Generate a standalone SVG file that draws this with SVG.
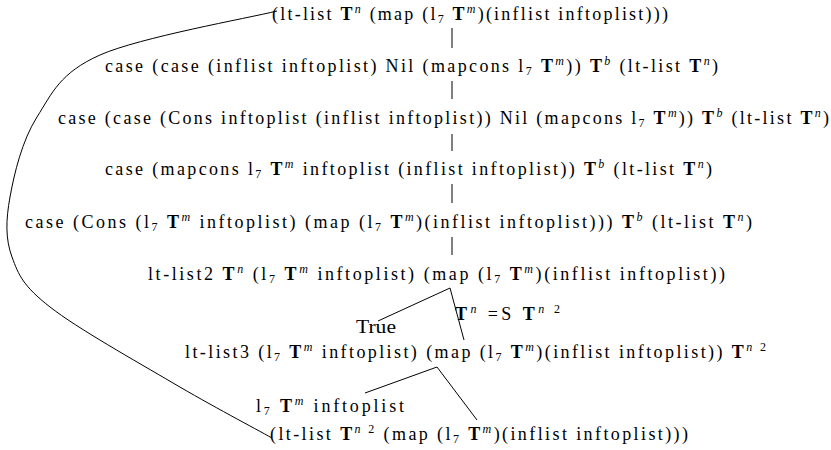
<svg xmlns="http://www.w3.org/2000/svg" width="831" height="450" viewBox="0 0 831 450">
<style>
.t{font-family:"Liberation Serif","DejaVu Serif",serif;font-size:18px;fill:#000}
.b{font-weight:bold}
.s{font-size:12px;font-style:italic}
.d{font-size:12px}
.c{fill:none;stroke:#000;stroke-width:1}
</style>
<rect width="831" height="450" fill="#fff"/>
<g id="connectors">
<path class="c" d="M277,11 C247.5,18.3 140,37.3 100,55 C60,72.7 52,93.3 37,117 C22,140.7 14.2,173.7 10,197 C5.8,220.3 5.3,238.7 12,257 C18.7,275.3 23.2,286 50,307 C76.8,328 136,361.2 173,383 C210,404.8 255.5,428.8 272,438"/>
<line class="c" x1="452" y1="28" x2="452" y2="48"/>
<line class="c" x1="452" y1="81" x2="452" y2="99"/>
<line class="c" x1="452" y1="134" x2="452" y2="151"/>
<line class="c" x1="452" y1="184" x2="452" y2="203"/>
<line class="c" x1="452" y1="237" x2="452" y2="255"/>
<polyline class="c" points="378,321 450,288 464,340"/>
<polyline class="c" points="365,393 437,367 477,420"/>
</g>
<g id="n1"><text class="t" x="272" y="20" textLength="396" lengthAdjust="spacing">(lt-list <tspan class="b">T</tspan><tspan class="s" dy="-7">n</tspan><tspan dy="7"> (map (l</tspan><tspan class="d" dy="3">7</tspan><tspan dy="-3"> </tspan><tspan class="b">T</tspan><tspan class="s" dy="-7">m</tspan><tspan dy="7">)(inflist inftoplist)))</tspan></text></g>
<g id="n2"><text class="t" x="105" y="72" textLength="613" lengthAdjust="spacing">case (case (inflist inftoplist) Nil (mapcons l<tspan class="d" dy="3">7</tspan><tspan dy="-3"> </tspan><tspan class="b">T</tspan><tspan class="s" dy="-7">m</tspan><tspan dy="7">)) </tspan><tspan class="b">T</tspan><tspan class="s" dy="-7">b</tspan><tspan dy="7"> (lt-list </tspan><tspan class="b">T</tspan><tspan class="s" dy="-7">n</tspan><tspan dy="7">)</tspan></text></g>
<g id="n3"><text class="t" x="58" y="124" textLength="771" lengthAdjust="spacing">case (case (Cons inftoplist (inflist inftoplist)) Nil (mapcons l<tspan class="d" dy="3">7</tspan><tspan dy="-3"> </tspan><tspan class="b">T</tspan><tspan class="s" dy="-7">m</tspan><tspan dy="7">)) </tspan><tspan class="b">T</tspan><tspan class="s" dy="-7">b</tspan><tspan dy="7"> (lt-list </tspan><tspan class="b">T</tspan><tspan class="s" dy="-7">n</tspan><tspan dy="7">)</tspan></text></g>
<g id="n4"><text class="t" x="105" y="175" textLength="607" lengthAdjust="spacing">case (mapcons l<tspan class="d" dy="3">7</tspan><tspan dy="-3"> </tspan><tspan class="b">T</tspan><tspan class="s" dy="-7">m</tspan><tspan dy="7"> inftoplist (inflist inftoplist)) </tspan><tspan class="b">T</tspan><tspan class="s" dy="-7">b</tspan><tspan dy="7"> (lt-list </tspan><tspan class="b">T</tspan><tspan class="s" dy="-7">n</tspan><tspan dy="7">)</tspan></text></g>
<g id="n5"><text class="t" x="25" y="228" textLength="727" lengthAdjust="spacing">case (Cons (l<tspan class="d" dy="3">7</tspan><tspan dy="-3"> </tspan><tspan class="b">T</tspan><tspan class="s" dy="-7">m</tspan><tspan dy="7"> inftoplist) (map (l</tspan><tspan class="d" dy="3">7</tspan><tspan dy="-3"> </tspan><tspan class="b">T</tspan><tspan class="s" dy="-7">m</tspan><tspan dy="7">)(inflist inftoplist))) </tspan><tspan class="b">T</tspan><tspan class="s" dy="-7">b</tspan><tspan dy="7"> (lt-list </tspan><tspan class="b">T</tspan><tspan class="s" dy="-7">n</tspan><tspan dy="7">)</tspan></text></g>
<g id="n6"><text class="t" x="148" y="280" textLength="577" lengthAdjust="spacing">lt-list2 <tspan class="b">T</tspan><tspan class="s" dy="-7">n</tspan><tspan dy="7"> (l</tspan><tspan class="d" dy="3">7</tspan><tspan dy="-3"> </tspan><tspan class="b">T</tspan><tspan class="s" dy="-7">m</tspan><tspan dy="7"> inftoplist) (map (l</tspan><tspan class="d" dy="3">7</tspan><tspan dy="-3"> </tspan><tspan class="b">T</tspan><tspan class="s" dy="-7">m</tspan><tspan dy="7">)(inflist inftoplist))</tspan></text></g>
<g id="n7"><text class="t" x="356" y="333" textLength="40" lengthAdjust="spacingAndGlyphs">True</text></g>
<g id="n8"><text class="t" x="455" y="320" textLength="105" lengthAdjust="spacing"><tspan class="b">T</tspan><tspan class="s" dy="-7">n</tspan><tspan dy="7"> =S </tspan><tspan class="b">T</tspan><tspan class="s" dy="-7">n</tspan><tspan class="d"> 2</tspan></text></g>
<g id="n9"><text class="t" x="185" y="358" textLength="581" lengthAdjust="spacing">lt-list3 (l<tspan class="d" dy="3">7</tspan><tspan dy="-3"> </tspan><tspan class="b">T</tspan><tspan class="s" dy="-7">m</tspan><tspan dy="7"> inftoplist) (map (l</tspan><tspan class="d" dy="3">7</tspan><tspan dy="-3"> </tspan><tspan class="b">T</tspan><tspan class="s" dy="-7">m</tspan><tspan dy="7">)(inflist inftoplist)) </tspan><tspan class="b">T</tspan><tspan class="s" dy="-7">n</tspan><tspan class="d"> 2</tspan></text></g>
<g id="n10"><text class="t" x="256" y="412" textLength="148" lengthAdjust="spacing">l<tspan class="d" dy="3">7</tspan><tspan dy="-3"> </tspan><tspan class="b">T</tspan><tspan class="s" dy="-7">m</tspan><tspan dy="7"> inftoplist</tspan></text></g>
<g id="n11"><text class="t" x="270" y="440" textLength="418" lengthAdjust="spacing">(lt-list <tspan class="b">T</tspan><tspan class="s" dy="-7">n</tspan><tspan class="d"> 2</tspan><tspan dy="7"> (map (l</tspan><tspan class="d" dy="3">7</tspan><tspan dy="-3"> </tspan><tspan class="b">T</tspan><tspan class="s" dy="-7">m</tspan><tspan dy="7">)(inflist inftoplist)))</tspan></text></g>
</svg>
